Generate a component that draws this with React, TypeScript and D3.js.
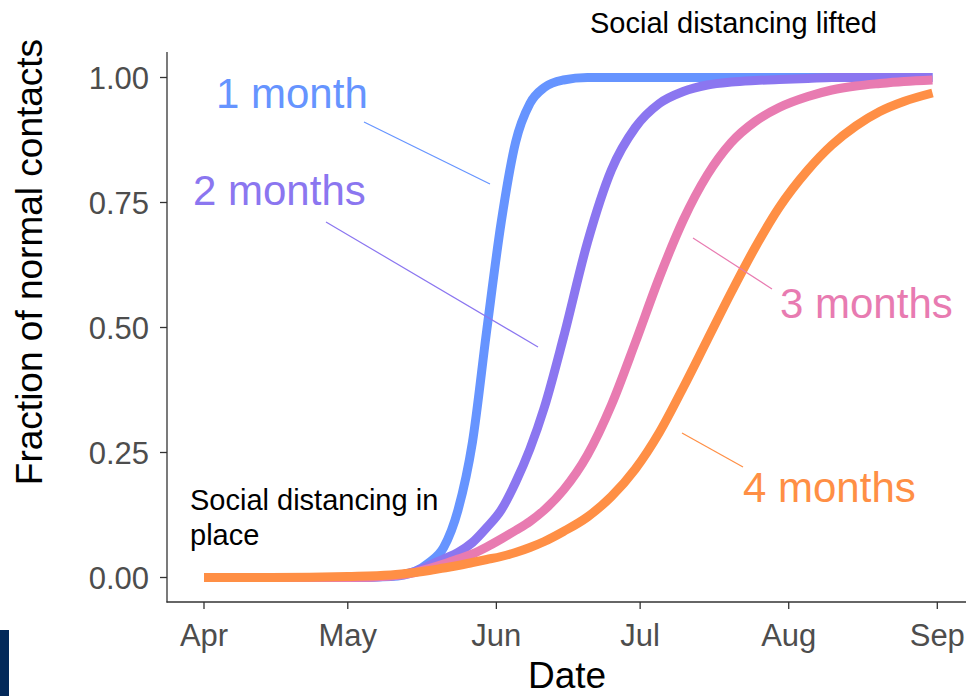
import React from "react";
import * as d3 from "d3";

const dates = ["04-01","04-15","05-01","05-10","05-15","05-18","05-21","05-24","05-27","05-30","06-02","06-05","06-08","06-11","06-15","06-20","06-25","06-30","07-05","07-10","07-15","07-20","07-25","07-30","08-05","08-10","08-15","08-20","08-25","08-31"];

const oneMonth = [0,0,0,0.002,0.012,0.03,0.06,0.135,0.27,0.495,0.71,0.87,0.948,0.98,0.995,1,1,1,1,1,1,1,1,1,1,1,1,1,1,1];
const twoMonths = [0,0,0,0.003,0.012,0.024,0.037,0.05,0.07,0.1,0.135,0.19,0.257,0.34,0.48,0.67,0.815,0.9,0.948,0.972,0.985,0.991,0.994,0.996,0.998,1,1,1,1,1];
const threeMonths = [0,0,0,0.003,0.01,0.018,0.027,0.037,0.047,0.061,0.077,0.094,0.112,0.135,0.175,0.245,0.345,0.47,0.6,0.715,0.805,0.87,0.912,0.94,0.962,0.975,0.983,0.988,0.992,0.995];
const fourMonths = [0,0,0.002,0.005,0.01,0.014,0.019,0.024,0.03,0.036,0.042,0.05,0.06,0.072,0.092,0.121,0.162,0.217,0.29,0.38,0.475,0.57,0.66,0.74,0.815,0.865,0.903,0.932,0.952,0.969];

const seriesNames = ["1 month", "2 months", "3 months", "4 months"];
const seriesValues = [oneMonth, twoMonths, threeMonths, fourMonths];
const seriesColors = ["#6694ff", "#8b76f0", "#e87bb1", "#ff8f45"];

const yTicks = [0, 0.25, 0.5, 0.75, 1];

const FONT = "'Liberation Sans', Arial, Helvetica, sans-serif";

export default function App() {
  const W = 966, H = 696;
  const x = d3.scaleUtc()
    .domain([new Date(Date.UTC(2020, 3, 1)), new Date(Date.UTC(2020, 8, 1))])
    .range([204, 937.3]);
  const y = d3.scaleLinear().domain([0, 1]).range([577.5, 77.5]);
  const parsed = dates.map((s) => {
    const [m, d] = s.split("-").map(Number);
    return new Date(Date.UTC(2020, m - 1, d));
  });
  const line = d3.line<{ date: Date; v: number }>()
    .x((d) => x(d.date))
    .y((d) => y(d.v))
    .curve(d3.curveMonotoneX);
  const xTicks = x.ticks(d3.utcMonth.every(1) as any);
  const fmt = d3.utcFormat("%b");
  const axisColor = "#333333";
  const tickText = "#4d4d4d";

  const labelPos = [
    { x: 216, y: 108, lx1: 364, ly1: 122, lx2: 490, ly2: 184 },
    { x: 193, y: 205, lx1: 326, ly1: 222, lx2: 538, ly2: 347 },
    { x: 780, y: 318, lx1: 693, ly1: 238, lx2: 772, ly2: 289 },
    { x: 743, y: 502, lx1: 682, ly1: 433, lx2: 743, ly2: 467 },
  ];

  return (
    <svg width={W} height={H} style={{ position: "absolute", left: 0, top: 0, background: "#fff" }} fontFamily={FONT}>
      <rect x={0} y={0} width={W} height={H} fill="#ffffff" />
      {/* axes */}
      <line x1={167} y1={52} x2={167} y2={602.5} stroke={axisColor} strokeWidth={1.3} />
      <line x1={166.5} y1={602} x2={W} y2={602} stroke={axisColor} strokeWidth={1.3} />
      {yTicks.map((t) => (
        <g key={"y" + t}>
          <line x1={160} x2={167} y1={y(t)} y2={y(t)} stroke={axisColor} strokeWidth={1.3} />
          <text x={149} y={y(t) + 11} textAnchor="end" fontSize={31} fill={tickText}>
            {t.toFixed(2)}
          </text>
        </g>
      ))}
      {xTicks.map((t) => (
        <g key={"x" + t.getTime()}>
          <line x1={x(t)} x2={x(t)} y1={602} y2={609} stroke={axisColor} strokeWidth={1.3} />
          <text x={x(t)} y={646} textAnchor="middle" fontSize={31} fill={tickText}>
            {fmt(t)}
          </text>
        </g>
      ))}
      {/* axis titles */}
      <text x={567} y={688} textAnchor="middle" fontSize={37} fill="#000">Date</text>
      <text transform="translate(42,262) rotate(-90)" textAnchor="middle" fontSize={37} fill="#000">
        Fraction of normal contacts
      </text>
      {/* curves */}
      {seriesValues.map((vals, i) => (
        <path
          key={seriesNames[i]}
          d={line(parsed.map((date, j) => ({ date, v: vals[j] }))) || ""}
          fill="none"
          stroke={seriesColors[i]}
          strokeWidth={9}
          strokeLinecap="butt"
          strokeLinejoin="round"
        />
      ))}
      {/* series labels */}
      {seriesNames.map((name, i) => (
        <g key={"lab" + name}>
          <line x1={labelPos[i].lx1} y1={labelPos[i].ly1} x2={labelPos[i].lx2} y2={labelPos[i].ly2}
            stroke={seriesColors[i]} strokeWidth={1.2} />
          <text x={labelPos[i].x} y={labelPos[i].y} fontSize={42} fill={seriesColors[i]}>{name}</text>
        </g>
      ))}
      {/* annotations */}
      <text x={590} y={33} fontSize={29} fill="#000">Social distancing lifted</text>
      <text x={190} y={510} fontSize={29} fill="#000">Social distancing in</text>
      <text x={190} y={545} fontSize={29} fill="#000">place</text>
      <rect x={0} y={630} width={9} height={66} fill="#03295a" />
    </svg>
  );
}
